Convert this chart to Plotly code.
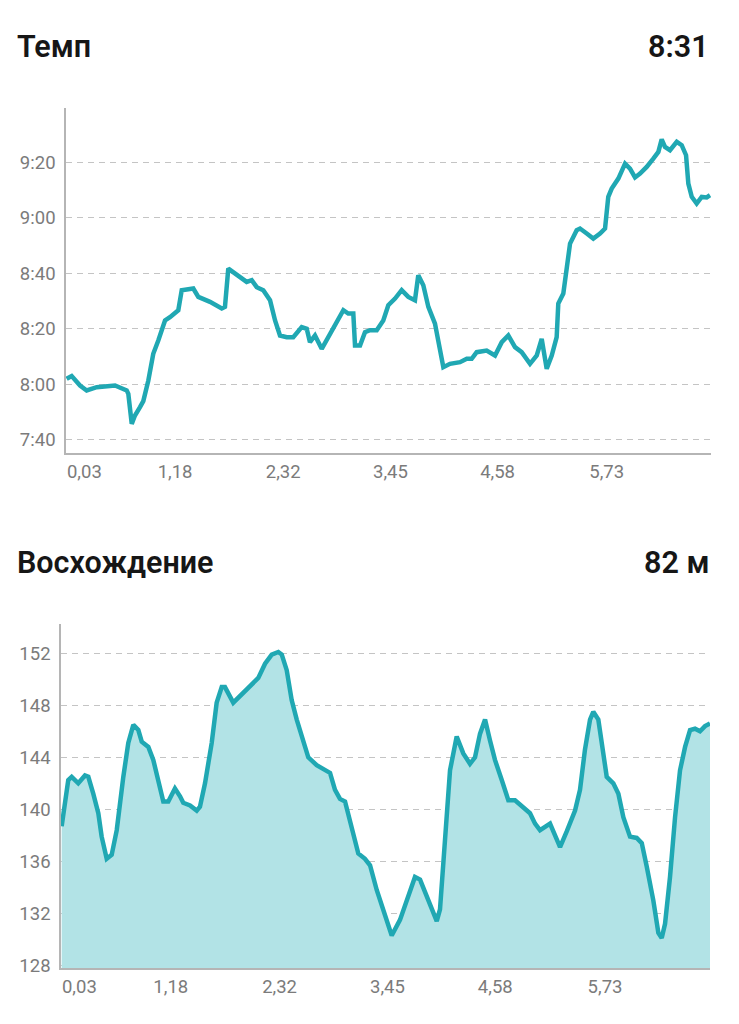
import plotly.graph_objects as go

# --- Pace (seconds per km) vs distance (km) ---
PACE_KM = [
    0.037, 0.09, 0.178, 0.248, 0.354, 0.547, 0.670, 0.687, 0.723, 0.757,
    0.810, 0.845, 0.898, 0.950, 1.003, 1.074, 1.126, 1.214, 1.250, 1.303,
    1.372, 1.425, 1.548, 1.672, 1.706, 1.741, 1.794, 1.865, 1.935, 1.988,
    2.041, 2.110, 2.181, 2.234, 2.286, 2.357, 2.426, 2.515, 2.568, 2.602,
    2.655, 2.726, 2.795, 2.884, 2.954, 3.006, 3.059, 3.077, 3.130, 3.182,
    3.235, 3.306, 3.375, 3.428, 3.499, 3.569, 3.639, 3.709, 3.744, 3.797,
    3.850, 3.920, 3.973, 4.008, 4.078, 4.184, 4.255, 4.307, 4.360, 4.465,
    4.553, 4.624, 4.693, 4.764, 4.834, 4.922, 4.993, 5.045, 5.098, 5.151,
    5.203, 5.220, 5.273, 5.309, 5.344, 5.414, 5.449, 5.520, 5.589, 5.660,
    5.713, 5.747, 5.783, 5.853, 5.924, 5.976, 6.029, 6.082, 6.152, 6.222,
    6.275, 6.310, 6.345, 6.398, 6.469, 6.521, 6.567, 6.591, 6.627, 6.679,
    6.732, 6.785, 6.820,
]
PACE_SEC = [
    482, 483, 479.6, 477.8, 479, 479.6, 477.8, 476.6, 465.8, 468.8,
    471.8, 474, 481.4, 491, 495.8, 503, 504.2, 506.7, 513.9, 514.1,
    514.5, 511.5, 509.7, 507.3, 507.9, 521.7, 520.5, 518.7, 516.9, 517.5,
    515, 513.9, 510.3, 503, 497.6, 497, 497, 500.6, 500, 495.2,
    497.6, 492.8, 497, 501.9, 506.7, 505.5, 505.5, 494, 494, 498.8,
    499.5, 499.5, 503, 508.5, 510.9, 513.9, 511.5, 510.3, 519.3, 515.7,
    507.9, 501.9, 493.4, 486.2, 487.4, 488, 489.2, 489.2, 491.6, 492.2,
    490.4, 495.2, 497.6, 493.4, 491.6, 487.4, 490.4, 496.4, 485.6, 490.4,
    497, 509.1, 512.7, 522.3, 530.7, 535.5, 536.1, 534.3, 532.5, 534.3,
    536.1, 547.5, 550.5, 554.1, 559.5, 557.7, 554.5, 555.9, 558.3, 561.3,
    563.7, 568.2, 565.5, 564.3, 567.3, 566.1, 562.5, 552.3, 547.5, 545.1,
    547.5, 547.3, 548.1,
]

# --- Elevation (m) vs distance (km) ---
ELEV_KM = [
    0.037, 0.072, 0.106, 0.142, 0.211, 0.281, 0.316, 0.368, 0.421, 0.456,
    0.509, 0.561, 0.614, 0.683, 0.735, 0.788, 0.840, 0.876, 0.945, 0.997,
    1.050, 1.102, 1.154, 1.224, 1.277, 1.311, 1.382, 1.452, 1.486, 1.539,
    1.609, 1.661, 1.714, 1.748, 1.835, 1.906, 1.993, 2.097, 2.168, 2.238,
    2.307, 2.343, 2.395, 2.447, 2.500, 2.552, 2.621, 2.709, 2.796, 2.849,
    2.901, 2.953, 3.006, 3.076, 3.145, 3.215, 3.268, 3.338, 3.407, 3.495,
    3.582, 3.652, 3.739, 3.792, 3.862, 3.914, 3.967, 4.001, 4.054, 4.106,
    4.176, 4.245, 4.315, 4.368, 4.420, 4.473, 4.525, 4.577, 4.648, 4.717,
    4.787, 4.874, 4.944, 4.997, 5.049, 5.154, 5.206, 5.259, 5.329, 5.416,
    5.468, 5.520, 5.573, 5.607, 5.660, 5.712, 5.748, 5.817, 5.870, 5.922,
    5.992, 6.062, 6.115, 6.167, 6.236, 6.289, 6.324, 6.359, 6.411, 6.464,
    6.516, 6.569, 6.621, 6.673, 6.725, 6.778, 6.830,
]
ELEV_M = [
    138.7, 140.5, 142.25, 142.5, 142.0, 142.6, 142.5, 141.2, 139.7, 137.9,
    136.2, 136.5, 138.4, 142.5, 145.1, 146.5, 146.1, 145.2, 144.8, 143.8,
    142.0, 140.6, 140.6, 141.6, 141.0, 140.5, 140.3, 139.9, 140.2, 142.0,
    145.1, 148.2, 149.4, 149.4, 148.2, 148.7, 149.3, 150.1, 151.2, 151.9,
    152.1, 151.9, 150.7, 148.4, 146.9, 145.6, 144.0, 143.4, 143.0, 142.8,
    141.5, 140.8, 140.6, 138.7, 136.6, 136.2, 135.7, 133.8, 132.3, 130.3,
    131.5, 133.0, 134.8, 134.6, 133.3, 132.3, 131.4, 132.3, 137.4, 143.0,
    145.6, 144.3, 143.5, 144.0, 145.8, 146.9, 145.3, 143.8, 142.25, 140.7,
    140.7, 140.1, 139.7, 138.9, 138.4, 138.9, 137.9, 137.1, 138.3, 139.9,
    141.5, 144.6, 146.9, 147.5, 146.9, 144.6, 142.5, 142.0, 141.2, 139.4,
    137.9, 137.8, 137.4, 135.6, 133.0, 130.5, 130.1, 131.2, 134.8, 139.4,
    143.0, 144.8, 146.1, 146.2, 146.0, 146.4, 146.6,
]

X_TICKS = [0.03, 1.18, 2.32, 3.45, 4.58, 5.73]
X_TICK_TEXT = ["\u00a0" * 8 + "0,03", "1,18", "2,32", "3,45", "4,58", "5,73"]
PACE_TICKS = [460, 480, 500, 520, 540, 560]
PACE_TICK_TEXT = ["7:40", "8:00", "8:20", "8:40", "9:00", "9:20"]
ELEV_TICKS = [128, 132, 136, 140, 144, 148, 152]

LINE = "#20a8b3"
FILL = "#b2e3e6"
TICK_FONT = {"family": "Roboto, sans-serif", "size": 18.5, "color": "#7b7b7b"}
TITLE_FONT = {"family": "Roboto, sans-serif", "size": 30.5, "color": "#161616", "weight": 600}

# page body has an 8px margin, so the figure is 8px smaller and all
# positions below are measured in screen pixels minus that offset
OFF = 8
W, H = 739 - OFF, 1024 - OFF


def px_x(v):
    return (v - OFF) / W


def px_y(v):
    return 1 - (v - OFF) / H


fig = go.Figure()
fig.add_trace(go.Scatter(
    x=PACE_KM, y=PACE_SEC, mode="lines",
    line={"color": LINE, "width": 4.5},
    xaxis="x", yaxis="y", hoverinfo="skip",
))
fig.add_trace(go.Scatter(
    x=ELEV_KM, y=ELEV_M, mode="lines", fill="tozeroy", fillcolor=FILL,
    line={"color": LINE, "width": 4.5},
    xaxis="x2", yaxis="y2", hoverinfo="skip",
))

x_common = dict(
    range=[0.03, 6.83], tickvals=X_TICKS, ticktext=X_TICK_TEXT,
    showgrid=False, zeroline=False, showline=True, linecolor="#b5b5b5",
    linewidth=1.5, ticks="", tickfont=TICK_FONT, ticklabelstandoff=1,
    fixedrange=True, automargin=False,
)
y_common = dict(
    showgrid=True, gridcolor="#c4c4c4", griddash="6px,5px", gridwidth=1,
    zeroline=False, showline=True, linecolor="#b5b5b5", linewidth=1.5,
    ticks="", tickfont=TICK_FONT, ticklabelstandoff=5, fixedrange=True,
    automargin=False,
)

fig.update_layout(
    width=W, height=H,
    margin={"l": 0, "r": 0, "t": 0, "b": 0, "autoexpand": False},
    paper_bgcolor="white", plot_bgcolor="white",
    showlegend=False,
    xaxis=dict(x_common, domain=[px_x(66), px_x(711)], anchor="y"),
    yaxis=dict(y_common, domain=[px_y(453), px_y(108)], anchor="x",
               range=[455.3, 579.5], tickvals=PACE_TICKS, ticktext=PACE_TICK_TEXT),
    xaxis2=dict(x_common, domain=[px_x(61), px_x(710)], anchor="y2"),
    yaxis2=dict(y_common, domain=[px_y(968), px_y(624)], anchor="x2",
                range=[127.8, 154.25], tickvals=ELEV_TICKS),
)

headers = [
    ("Темп", "left", 15, 46),
    ("8:31", "right", 711, 46),
    ("Восхождение", "left", 15, 562),
    ("82 м", "right", 711, 562),
]
for text, anchor, hx, hy in headers:
    fig.add_annotation(
        text=text, xref="paper", yref="paper", x=px_x(hx), y=px_y(hy),
        xanchor=anchor, yanchor="middle", showarrow=False, font=TITLE_FONT,
    )

fig.write_html("out.html")
